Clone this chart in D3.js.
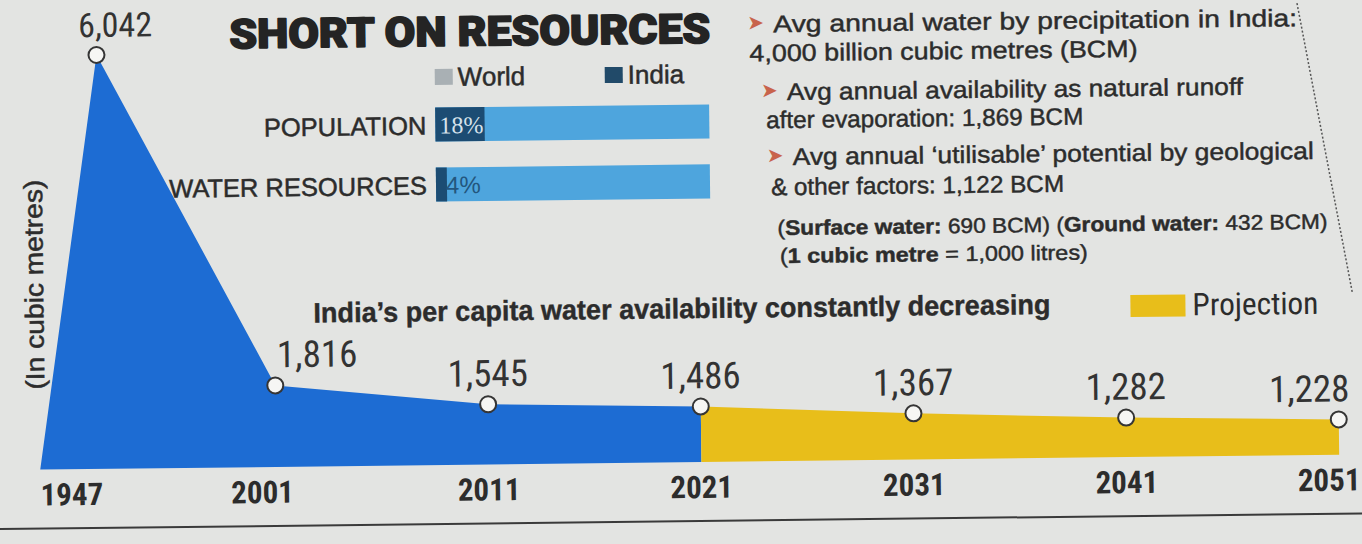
<!DOCTYPE html>
<html>
<head>
<meta charset="utf-8">
<script src="https://cdn.jsdelivr.net/npm/d3@7"></script>
<style>
  html, body { margin: 0; padding: 0; background: #e3e4e2; }
  svg { display: block; }
</style>
</head>
<body>
<svg id="chart" width="1362" height="544"></svg>
<script>
// Per capita water availability (cubic metres per person per year)
const years = [1947, 2001, 2011, 2021, 2031, 2041, 2051];
const perCapita = [6042, 1816, 1545, 1486, 1367, 1282, 1228];
const projectionStart = 2021;

// India's share of the world (%)
const shareCategories = ["POPULATION", "WATER RESOURCES"];
const indiaShare = [18, 4];
const worldShare = [100, 100];
const shareLegend = ["World", "India"];

// Fact lines of the side panel; bold runs are flagged
const noteLines = [
  { bullet: true,  parts: [["Avg annual water by precipitation in India:", false]] },
  { bullet: false, parts: [["4,000 billion cubic metres (BCM)", false]] },
  { bullet: true,  parts: [["Avg annual availability as natural runoff", false]] },
  { bullet: false, parts: [["after evaporation: 1,869 BCM", false]] },
  { bullet: true,  parts: [["Avg annual \u2018utilisable\u2019 potential by geological", false]] },
  { bullet: false, parts: [["& other factors: 1,122 BCM", false]] },
  { bullet: false, small: true, parts: [["(", false], ["Surface water:", true], [" 690 BCM) (", false], ["Ground water:", true], [" 432 BCM)", false]] },
  { bullet: false, small: true, parts: [["(", false], ["1 cubic metre", true], [" = 1,000 litres)", false]] }
];

const W = 1362, H = 544;
const ink = "#2c2c2c";
const blue = "#1d6cd3", gold = "#e8be1a";
const narrow = "'Liberation Sans Narrow', 'Roboto Condensed', 'DejaVu Sans Condensed', 'Liberation Sans', sans-serif";
const body = "'Liberation Sans', 'Noto Sans', sans-serif";

const svg = d3.select("#chart");
svg.append("rect").attr("width", W).attr("height", H).attr("fill", "#e3e4e2");

// the printed page sits at a slight angle
const g = svg.append("g").attr("transform", "rotate(-0.66, 700, 270)");

// ---- main area chart ----
const series = years.map((yr, i) => ({ year: yr, value: perCapita[i] }));
const x = d3.scaleLinear().domain([1947, 2001, 2051]).range([99, 274, 1337]);
const y = d3.scaleLinear().domain([780, 6042]).range([462, 48]);
const base = y.range()[0];
const footOffset = 61;

const area = d3.area()
  .x0((d, i) => d.year === years[0] ? x(d.year) - footOffset : x(d.year))
  .x1(d => x(d.year))
  .y0(base)
  .y1(d => y(d.value));

g.append("path")
  .datum(series.filter(d => d.year <= projectionStart))
  .attr("d", area).attr("fill", blue);
g.append("path")
  .datum(series.filter(d => d.year >= projectionStart))
  .attr("d", area).attr("fill", gold);

// year labels
const last = series.length - 1;
g.selectAll("text.year").data(series).join("text")
  .attr("class", "year")
  .attr("x", (d, i) => i === 0 ? x(d.year) - footOffset : i === 1 ? x(d.year) - 14 : i === last ? x(d.year) + 21 : x(d.year))
  .attr("y", base + 36)
  .attr("text-anchor", (d, i) => i === 0 ? "start" : i === last ? "end" : "middle")
  .attr("font-family", narrow).attr("font-weight", 700).attr("font-size", 31)
  .attr("fill", ink)
  .text(d => d.year);

// markers
g.selectAll("circle.pt").data(series).join("circle")
  .attr("class", "pt")
  .attr("cx", d => x(d.year)).attr("cy", d => y(d.value)).attr("r", 8)
  .attr("fill", "#f6f6f4").attr("stroke", "#353535").attr("stroke-width", 2);

// value labels
const fmt = d3.format(",");
g.selectAll("text.val").data(series).join("text")
  .attr("class", "val")
  .attr("x", (d, i) => i === 0 ? x(d.year) + 19 : i === 1 ? x(d.year) + 2 : i === last ? x(d.year) + 11 : x(d.year))
  .attr("y", d => y(d.value) - 18)
  .attr("text-anchor", (d, i) => i === 1 ? "start" : i === last ? "end" : "middle")
  .attr("font-family", narrow).attr("font-size", (d, i) => i === 0 ? 34 : 37)
  .attr("fill", "#333")
  .text(d => fmt(d.value));

// y unit label
g.append("text")
  .attr("transform", "translate(43, 277) rotate(-90)")
  .attr("text-anchor", "middle")
  .attr("font-family", body).attr("font-size", 26).attr("fill", ink)
  .attr("stroke", ink).attr("stroke-width", 0.5)
  .attr("textLength", 210).attr("lengthAdjust", "spacingAndGlyphs")
  .text("(In cubic metres)");

// chart subtitle + projection key
g.append("text")
  .attr("x", 313).attr("y", 318)
  .attr("font-family", body).attr("font-weight", 700).attr("font-size", 28)
  .attr("fill", ink).attr("stroke", ink).attr("stroke-width", 0.4)
  .attr("textLength", 737).attr("lengthAdjust", "spacingAndGlyphs")
  .text("India\u2019s per capita water availability constantly decreasing");
g.append("rect").attr("x", 1130).attr("y", 300).attr("width", 55).attr("height", 22).attr("fill", gold);
g.append("text")
  .attr("x", 1192).attr("y", 321)
  .attr("font-family", narrow).attr("font-size", 31).attr("fill", ink)
  .attr("textLength", 126).attr("lengthAdjust", "spacingAndGlyphs")
  .text("Projection");

// bottom rule
g.append("line").attr("x1", -20).attr("x2", W + 20).attr("y1", 521).attr("y2", 521)
  .attr("stroke", "#3a3a3a").attr("stroke-width", 2);

// ---- title ----
g.append("text")
  .attr("x", 232).attr("y", 43)
  .attr("font-family", "Roboto, 'Liberation Sans', sans-serif").attr("font-weight", 900).attr("font-size", 41)
  .attr("fill", "#242424").attr("stroke", "#242424").attr("stroke-width", 1.6)
  .attr("stroke-linejoin", "round")
  .attr("textLength", 481).attr("lengthAdjust", "spacingAndGlyphs")
  .text("SHORT ON RESOURCES");

// ---- share bars ----
const sx = d3.scaleLinear().domain([0, 100]).range([437, 711]);
const sy = d3.scaleBand().domain(shareCategories).range([104.5, 198.5]).paddingInner(0.433).paddingOuter(0);
const worldColor = "#4ea5dd", indiaColor = "#1c4c73";

const legendColors = ["#a9b0b4", "#214a69"];
const legendX = [437, 607];
shareLegend.forEach((name, i) => {
  g.append("rect").attr("x", legendX[i]).attr("y", 66).attr("width", 18).attr("height", 16).attr("fill", legendColors[i]);
  g.append("text").attr("x", legendX[i] + 23).attr("y", 83)
    .attr("font-family", body).attr("font-size", 26).attr("fill", ink)
    .attr("stroke", ink).attr("stroke-width", 0.5)
    .text(name);
});

const bars = g.selectAll("g.share").data(shareCategories).join("g").attr("class", "share");
bars.append("rect")
  .attr("x", sx(0)).attr("y", d => sy(d))
  .attr("width", (d, i) => sx(worldShare[i]) - sx(0)).attr("height", sy.bandwidth())
  .attr("fill", worldColor);
bars.append("rect")
  .attr("x", sx(0)).attr("y", d => sy(d))
  .attr("width", (d, i) => sx(indiaShare[i]) - sx(0)).attr("height", sy.bandwidth())
  .attr("fill", indiaColor);
bars.append("text")
  .attr("x", sx(0) - 9).attr("y", d => sy(d) + sy.bandwidth() / 2 + 10)
  .attr("text-anchor", "end")
  .attr("font-family", body).attr("font-size", 25.5).attr("fill", ink)
  .attr("stroke", ink).attr("stroke-width", 0.5)
  .text(d => d);
bars.append("text")
  .attr("x", (d, i) => sx(0) + (i === 0 ? 4 : 10)).attr("y", d => sy(d) + sy.bandwidth() / 2 + 9)
  .attr("font-family", (d, i) => i === 0 ? "'Liberation Serif', serif" : body)
  .attr("font-size", 24)
  .attr("fill", (d, i) => i === 0 ? "#d6e2ec" : "#23567d")
  .text((d, i) => indiaShare[i] + "%");

// ---- side notes ----
const lineY = [33, 62, 101, 129, 166, 196, 236, 264];
const lineX = [752, 752, 765, 768, 770, 772, 778, 780];
const lineEnd = [1300, 1140, 1245, 1085, 1315, 1065, 1328, 1088];
noteLines.forEach((ln, i) => {
  let tx = lineX[i];
  if (ln.bullet) {
    g.append("text").attr("x", tx - 2).attr("y", lineY[i] - 3)
      .attr("font-family", "'DejaVu Sans', sans-serif").attr("font-size", 20)
      .attr("fill", "#c8634c").text("\u27A4");
    tx += 24;
  }
  const t = g.append("text").attr("x", tx).attr("y", lineY[i])
    .attr("font-family", body).attr("font-size", ln.small ? 21 : 24)
    .attr("fill", ink).attr("stroke", ink).attr("stroke-width", 0.45)
    .attr("textLength", lineEnd[i] - tx).attr("lengthAdjust", "spacingAndGlyphs");
  ln.parts.forEach(([s, b]) => t.append("tspan").attr("font-weight", b ? 700 : 400).text(s));
});

// column divider
g.append("line").attr("x1", 1300).attr("y1", 10).attr("x2", 1352).attr("y2", 300)
  .attr("stroke", "#555").attr("stroke-width", 1.5).attr("stroke-dasharray", "2,2");
</script>
</body>
</html>
